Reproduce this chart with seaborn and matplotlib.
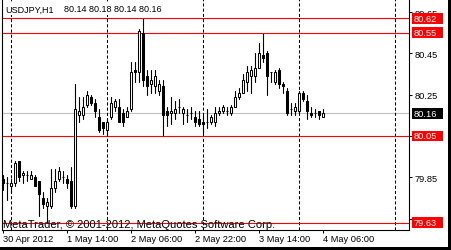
import matplotlib
matplotlib.use("Agg")
import matplotlib.pyplot as plt
from matplotlib.patches import Rectangle
from matplotlib.transforms import blended_transform_factory
import numpy as np
import pandas as pd
import seaborn as sns

# ---------------- data ----------------
opens = [79.84, 79.82, 79.81, 79.82, 79.93, 79.86, 79.86, 79.84, 79.85, 79.83,
         79.75, 79.71, 79.71, 79.80, 79.84, 79.85, 79.84, 79.83, 79.71, 80.15,
         80.15, 80.20, 80.24, 80.21, 80.14, 80.12, 80.08, 80.14, 80.19, 80.19,
         80.16, 80.14, 80.18, 80.37, 80.36, 80.55, 80.34, 80.30, 80.29, 80.27,
         80.29, 80.17, 80.16, 80.16, 80.19, 80.16, 80.15, 80.16, 80.14, 80.13,
         80.12, 80.12, 80.12, 80.12, 80.16, 80.17, 80.17, 80.16, 80.19, 80.24,
         80.26, 80.31, 80.34, 80.34, 80.38, 80.44, 80.45, 80.36, 80.31, 80.37,
         80.30, 80.27, 80.18, 80.17, 80.17, 80.26, 80.22, 80.16, 80.16, 80.17,
         80.14]
highs = [79.86, 79.85, 79.84, 79.93, 79.93, 79.88, 79.88, 79.88, 79.86, 79.83,
         79.78, 79.75, 79.89, 79.89, 79.90, 79.88, 79.86, 79.90, 80.30, 80.24,
         80.24, 80.27, 80.25, 80.23, 80.18, 80.12, 80.13, 80.24, 80.23, 80.23,
         80.18, 80.19, 80.41, 80.41, 80.57, 80.62, 80.37, 80.37, 80.37, 80.32,
         80.32, 80.19, 80.24, 80.22, 80.23, 80.19, 80.18, 80.19, 80.17, 80.17,
         80.15, 80.18, 80.15, 80.19, 80.19, 80.20, 80.19, 80.20, 80.27, 80.28,
         80.35, 80.39, 80.39, 80.45, 80.50, 80.55, 80.46, 80.36, 80.37, 80.38,
         80.31, 80.28, 80.21, 80.21, 80.27, 80.27, 80.25, 80.19, 80.18, 80.17,
         80.18]
lows = [79.79, 79.74, 79.78, 79.81, 79.83, 79.82, 79.83, 79.84, 79.81, 79.66,
        79.70, 79.63, 79.70, 79.78, 79.83, 79.82, 79.80, 79.70, 79.70, 80.12,
        80.13, 80.19, 80.20, 80.14, 80.07, 80.06, 80.05, 80.13, 80.17, 80.12,
        80.10, 80.14, 80.17, 80.31, 80.31, 80.29, 80.25, 80.26, 80.26, 80.25,
        80.05, 80.10, 80.11, 80.13, 80.16, 80.11, 80.12, 80.13, 80.10, 80.10,
        80.06, 80.09, 80.11, 80.10, 80.15, 80.16, 80.15, 80.15, 80.19, 80.23,
        80.26, 80.27, 80.26, 80.31, 80.38, 80.41, 80.25, 80.31, 80.30, 80.28,
        80.26, 80.15, 80.15, 80.15, 80.16, 80.22, 80.13, 80.14, 80.14, 80.13,
        80.14]
closes = [79.82, 79.82, 79.82, 79.92, 79.85, 79.87, 79.86, 79.86, 79.81, 79.77,
          79.72, 79.73, 79.80, 79.83, 79.88, 79.85, 79.82, 79.71, 80.18, 80.17,
          80.19, 80.25, 80.21, 80.17, 80.08, 80.09, 80.12, 80.21, 80.22, 80.12,
          80.12, 80.17, 80.36, 80.36, 80.56, 80.32, 80.29, 80.32, 80.34, 80.30,
          80.15, 80.15, 80.17, 80.18, 80.19, 80.18, 80.15, 80.16, 80.12, 80.11,
          80.11, 80.12, 80.14, 80.16, 80.17, 80.19, 80.17, 80.19, 80.24, 80.26,
          80.32, 80.36, 80.37, 80.38, 80.45, 80.43, 80.34, 80.36, 80.36, 80.30,
          80.29, 80.16, 80.18, 80.19, 80.26, 80.23, 80.17, 80.15, 80.16, 80.15,
          80.16]

symbol = "USDJPY,H1"
tick_bars = [0, 16, 32, 48, 64, 80]
tick_labels = ["30 Apr 2012", "1 May 14:00", "2 May 06:00", "2 May 22:00",
               "3 May 14:00", "4 May 06:00"]
day_separators = [2, 26, 50, 74, 98]          # bar index of each midnight
price_ticks = [79.65, 79.85, 80.05, 80.25, 80.45, 80.65]
red_levels = [80.62, 80.55, 80.05, 79.63]
bid_level = 80.16
copyright_text = "MetaTrader, \u00a9 2001-2012, MetaQuotes Software Corp."

# ---------------- style ----------------
sns.set_theme(style="white")
plt.rcParams["font.family"] = ["Liberation Sans", "DejaVu Sans"]

W, H = 451, 251
fig = plt.figure(figsize=(W / 100, H / 100), dpi=100)
fig.patch.set_facecolor("white")

left_px, right_px, top_px, bottom_px = 2, 409, 0, 230.5
ax = fig.add_axes([left_px / W, (H - bottom_px) / H,
                   (right_px - left_px) / W, (bottom_px - top_px) / H])
ax.set_facecolor("white")

n = len(opens)
idx = np.arange(n)
df = pd.DataFrame({"i": idx, "open": opens, "high": highs,
                   "low": lows, "close": closes})

# wicks via seaborn
wicks = pd.concat([df[["i", "high"]].rename(columns={"high": "price"}),
                   df[["i", "low"]].rename(columns={"low": "price"})])
sns.lineplot(data=wicks, x="i", y="price", units="i", estimator=None,
             color="black", linewidth=0.8, ax=ax, legend=False, zorder=3,
             sort=False)

# bodies
bottoms = np.minimum(df["open"], df["close"])
heights = np.abs(df["close"] - df["open"])
colors = np.where(df["close"] >= df["open"], "white", "black")
ax.bar(df["i"], heights, bottom=bottoms, width=0.55, color=colors,
       edgecolor="black", linewidth=0.75, zorder=4)

# horizontal levels
for lvl in red_levels:
    ax.axhline(lvl, color="#FF0000", lw=0.8, zorder=2)
ax.axhline(bid_level, color="#C0C0C0", lw=0.8, zorder=1)

# day separators
for d in day_separators:
    ax.axvline(d, color="black", lw=0.75, ls=(0, (3, 2)), zorder=1)

# axes limits (pixel-matched)
ax.set_xlim(-0.25, 101.5)
ax.set_ylim(79.597, 80.7135)

# spines
for s in ["left", "right", "bottom"]:
    ax.spines[s].set_visible(True)
    ax.spines[s].set_color("black")
    ax.spines[s].set_linewidth(0.8)
ax.spines["top"].set_visible(False)

# y ticks on the right
ax.yaxis.tick_right()
ax.set_yticks(price_ticks)
ax.set_yticklabels([f"{p:.2f}" for p in price_ticks])
ax.tick_params(axis="y", which="both", right=True, left=False, length=2.4,
               width=0.75, pad=1.5, labelsize=6.7, colors="black",
               direction="out")

# x ticks
ax.set_xticks(tick_bars)
ax.set_xticklabels(tick_labels, ha="left")
ax.tick_params(axis="x", bottom=True, length=2.4, width=0.75, pad=1.2,
               labelsize=6.7, colors="black", direction="out")
ax.set_xlabel("")
ax.set_ylabel("")

# price labels on the right axis
bt = blended_transform_factory(ax.transAxes, ax.transData)
axw = right_px - left_px
half_h = 5.3 / (bottom_px - top_px) * (80.7135 - 79.597)
box_x0 = (411.7 - left_px) / axw
box_w = (443.3 - 411.7) / axw
text_x = (414 - left_px) / axw
for lvl, fc in [(l, "#FF0000") for l in red_levels] + [(bid_level, "black")]:
    ax.add_patch(Rectangle((box_x0, lvl - half_h), box_w, 2 * half_h,
                           transform=bt, facecolor=fc, edgecolor="none",
                           clip_on=False, zorder=10))
    ax.text(text_x, lvl, f"{lvl:.2f}", transform=bt, color="white",
            fontsize=6.7, va="center", ha="left", clip_on=False, zorder=11)

# header
ax.text((5 - left_px) / axw, 0.946, symbol, transform=ax.transAxes,
        fontsize=6.5, color="black", va="baseline", ha="left", zorder=12,
        bbox=dict(boxstyle="square,pad=0.15", facecolor="white",
                  edgecolor="none"))
ohlc = f"{opens[-1]:.2f} {highs[-1]:.2f} {lows[-1]:.2f} {closes[-1]:.2f}"
ax.text((64 - left_px) / axw, 0.946, ohlc, transform=ax.transAxes,
        fontsize=6.5, color="black", va="baseline", ha="left", zorder=12,
        bbox=dict(boxstyle="square,pad=0.15", facecolor="white",
                  edgecolor="none"))

# copyright
ax.text((3 - left_px) / axw, (bottom_px - 228.5) / (bottom_px - top_px),
        copyright_text, transform=ax.transAxes, fontsize=8, color="black",
        va="baseline", ha="left", zorder=12)

# window shadow (right and bottom)
fig.patches.append(Rectangle((448 / W, 0), 3 / W, 1, transform=fig.transFigure,
                             facecolor="black", edgecolor="none"))
fig.patches.append(Rectangle((0, 0), 1, 3 / H, transform=fig.transFigure,
                             facecolor="black", edgecolor="none"))

fig.savefig("out.png", dpi=100)
